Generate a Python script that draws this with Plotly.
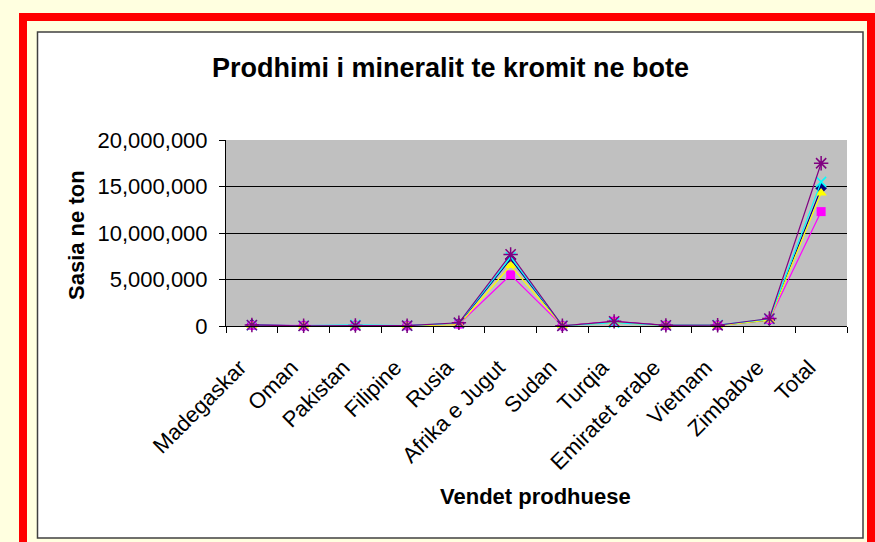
import plotly.graph_objects as go

categories = ["Madegaskar", "Oman", "Pakistan", "Filipine", "Rusia", "Afrika e Jugut",
              "Sudan", "Turqia", "Emiratet arabe", "Vietnam", "Zimbabve", "Total"]

series_1 = [140000, 20000, 30000, 30000, 250000, 7200000, 20000, 450000, 80000, 60000, 650000, 14800000]
series_2 = [60000, 20000, 40000, 30000, 200000, 5500000, 20000, 500000, 50000, 60000, 700000, 12300000]
series_3 = [50000, 10000, 30000, 20000, 150000, 6500000, 20000, 400000, 40000, 30000, 650000, 14300000]
series_4 = [80000, 30000, 120000, 40000, 300000, 7400000, 30000, 350000, 60000, 100000, 750000, 15500000]
series_5 = [100000, 20000, 50000, 30000, 350000, 7700000, 20000, 500000, 70000, 80000, 800000, 17500000]

y_ticks = [0, 5000000, 10000000, 15000000, 20000000]
y_tick_labels = ["0", "5,000,000", "10,000,000", "15,000,000", "20,000,000"]

title_text = "Prodhimi i mineralit te kromit ne bote"
x_title = "Vendet prodhuese"
y_title = "Sasia ne ton"

W, H = 875, 542
L, R, T, B = 226, 28, 140, 216
PW, PH = W - L - R, H - T - B


def px(x):
    return (x - L) / PW


def py(y):
    return (H - B - y) / PH


FONT = "Liberation Sans, Arial, sans-serif"

fig = go.Figure()

styles = [
    (series_1, "#000080", dict(symbol="diamond", size=9, color="#000080")),
    (series_2, "#FF00FF", dict(symbol="square", size=9, color="#FF00FF")),
    (series_3, "#FFFF00", dict(symbol="triangle-up", size=10, color="#FFFF00")),
    (series_4, "#00FFFF", dict(symbol="x-thin-open", size=10, color="#00FFFF", line=dict(width=1.5, color="#00FFFF"))),
    (series_5, "#800080", dict(symbol="asterisk-open", size=12, color="#800080", line=dict(width=1.5, color="#800080"))),
]
for i, (vals, col, mk) in enumerate(styles):
    fig.add_trace(go.Scatter(
        x=categories, y=vals, mode="lines+markers",
        line=dict(color=col, width=1.2), marker=mk,
        name=f"Seria {i + 1}", showlegend=False, cliponaxis=False,
    ))

shapes = [
    # red frame
    dict(type="rect", xref="paper", yref="paper", layer="below",
         x0=px(23), x1=px(871), y0=py(17), y1=py(580),
         line=dict(color="#FF0000", width=8), fillcolor="rgba(0,0,0,0)"),
    # white chart area
    dict(type="rect", xref="paper", yref="paper", layer="below",
         x0=px(37.5), x1=px(863), y0=py(32), y1=py(538),
         line=dict(color="#404040", width=1.5), fillcolor="#FFFFFF"),
    # grey plot area
    dict(type="rect", xref="paper", yref="paper", layer="below",
         x0=0, x1=1, y0=0, y1=1,
         line=dict(width=0), fillcolor="#C0C0C0"),
]

annotations = [
    dict(text="<b>" + title_text + "</b>", xref="paper", yref="paper",
         x=px(450), y=py(68), xanchor="center", yanchor="middle", showarrow=False,
         font=dict(family=FONT, size=27, color="#000000")),
    dict(text="<b>" + x_title + "</b>", xref="paper", yref="paper",
         x=px(535), y=py(496), xanchor="center", yanchor="middle", showarrow=False,
         font=dict(family=FONT, size=22, color="#000000")),
    dict(text="<b>" + y_title + "</b>", xref="paper", yref="paper",
         x=px(76), y=py(235), xanchor="center", yanchor="middle", showarrow=False,
         textangle=-90, font=dict(family=FONT, size=22, color="#000000")),
]

fig.update_layout(
    width=W, height=H,
    margin=dict(l=L, r=R, t=T, b=B, pad=0),
    paper_bgcolor="#FFFFE0",
    plot_bgcolor="#C0C0C0",
    font=dict(family=FONT, size=21, color="#000000"),
    shapes=shapes,
    annotations=annotations,
    xaxis=dict(
        type="category", categoryorder="array", categoryarray=categories,
        tickangle=-45, tickson="boundaries", ticks="outside", ticklen=6,
        tickcolor="#000000", showgrid=False, showline=True, linecolor="#000000",
        linewidth=1, zeroline=False, tickfont=dict(family=FONT, size=22),
        ticklabelstandoff=19, ticklabelshift=-12,
        range=[-0.5, len(categories) - 0.5], fixedrange=True,
    ),
    yaxis=dict(
        range=[0, 20000000], tickvals=y_ticks, ticktext=y_tick_labels,
        ticks="outside", ticklen=6, tickcolor="#000000",
        showgrid=True, gridcolor="#000000", gridwidth=1,
        showline=True, linecolor="#000000", linewidth=1, zeroline=False,
        tickfont=dict(family=FONT, size=22), ticklabelstandoff=7, fixedrange=True,
    ),
)

fig.write_html(
    "out.html",
    config={"displayModeBar": False},
    post_script="document.body.style.margin='0px';document.body.style.background='#FFFFE0';",
)
